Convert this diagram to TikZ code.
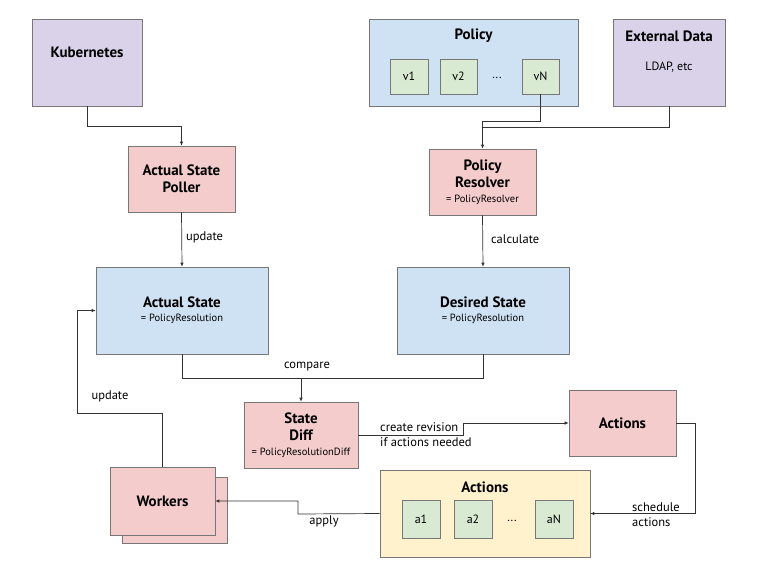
\documentclass[tikz,border=0pt]{standalone}
\usepackage{fontspec}
\setmainfont{PT Sans}
\usetikzlibrary{arrows.meta}
\definecolor{cpurple}{HTML}{D9D2E9}
\definecolor{cpink}{HTML}{F4CCCC}
\definecolor{cblue}{HTML}{CFE2F3}
\definecolor{cgreen}{HTML}{D9EAD3}
\definecolor{cyellow}{HTML}{FFF2CC}
\definecolor{cborder}{HTML}{777777}
\definecolor{cline}{HTML}{333333}
\newcommand{\subtxt}[1]{{\fontsize{10.5}{12}\selectfont\mdseries #1}}
\begin{document}
\begin{tikzpicture}[x=1pt,y=-1pt,
  box/.style={draw=cborder,line width=0.6pt,inner sep=0pt,align=center},
  ttl/.style={font=\fontsize{15}{17}\selectfont\bfseries},
  lbl/.style={font=\fontsize{12.5}{15}\selectfont,inner sep=0pt,align=left},
  small/.style={box,fill=cgreen,font=\fontsize{12}{14}\selectfont},
  conn/.style={draw=cline,line width=0.7pt},
  arr/.style={conn,-{Latex[length=4pt,width=3.5pt]}}]
\useasboundingbox[fill=white] (0,0) rectangle (760,570);

% top row
\node[box,fill=cpurple,minimum width=110pt,minimum height=87pt] (kube) at (87,62.5) {};
\node[ttl] (kubet) at (87,52) {Kubernetes};

\node[box,fill=cblue,minimum width=209pt,minimum height=87pt] (policy) at (473.5,62.5) {};
\node[ttl] (policyt) at (473.5,36) {Policy};
\node[small,minimum width=38pt,minimum height=35pt] (v1) at (409,76.5) {v1};
\node[small,minimum width=37pt,minimum height=35pt] (v2) at (458.5,76.5) {v2};
\node[font=\fontsize{12}{14}\selectfont] (vdots) at (497,78) {...};
\node[small,minimum width=37pt,minimum height=35pt] (vN) at (540.5,76.5) {vN};

\node[box,fill=cpurple,minimum width=112pt,minimum height=87pt] (ext) at (669,62.5) {};
\node[ttl] (extt) at (669,36) {External Data};
\node[font=\fontsize{12}{14}\selectfont] (extl) at (669,67) {LDAP, etc};

% second row
\node[box,fill=cpink,minimum width=107pt,minimum height=66pt,ttl] (poller) at (181.5,179) {Actual State\\Poller};
\node[box,fill=cpink,minimum width=107pt,minimum height=66pt,ttl] (resolver) at (482.5,182)
  {Policy\\Resolver\\[-2pt]\subtxt{= PolicyResolver}};

% third row
\node[box,fill=cblue,minimum width=172pt,minimum height=87pt,ttl] (actual) at (182,310.5)
  {Actual State\\[-3pt]\subtxt{= PolicyResolution}};
\node[box,fill=cblue,minimum width=172pt,minimum height=87pt,ttl] (desired) at (483,310.5)
  {Desired State\\[-3pt]\subtxt{= PolicyResolution}};

% diff and actions
\node[box,fill=cpink,minimum width=114pt,minimum height=66pt,ttl] (diff) at (301,435)
  {State\\Diff\\[-2pt]\subtxt{= PolicyResolutionDiff}};
\node[box,fill=cpink,minimum width=107pt,minimum height=66pt,ttl] (actpink) at (622.5,423) {Actions};

\node[box,fill=cyellow,minimum width=210pt,minimum height=87pt] (yellow) at (485,513.5) {};
\node[ttl] (yellowt) at (485,487) {Actions};
\node[small,minimum width=38pt,minimum height=38pt] (a1) at (421,519) {a1};
\node[small,minimum width=38pt,minimum height=38pt] (a2) at (473,519) {a2};
\node[font=\fontsize{12}{14}\selectfont] (adots) at (512,521) {...};
\node[small,minimum width=38pt,minimum height=38pt] (aN) at (554,519) {aN};

% workers
\node[box,fill=cpink,minimum width=105pt,minimum height=66pt] (wback) at (174.5,510) {};
\node[box,fill=cpink,minimum width=105pt,minimum height=68pt,ttl] (wfront) at (162.5,501) {Workers};

% connectors
\draw[arr] (kube.south) -- ++(0,20) -| (poller.north);
\draw[arr] (poller.south) -- (actual.north) node[lbl,pos=0.47,right=4pt] {update};

\coordinate (jv) at (482.5,121);
\coordinate (jext) at (482.5,127);
\draw[arr] (vN.south) |- (jv) -- (resolver.north);
\draw[conn] (ext.south) |- (jext);
\draw[arr] (resolver.south) -- (desired.north) node[lbl,pos=0.47,right=8pt] {calculate};

\coordinate (jc) at (301,378);
\draw[conn] (actual.south) |- (desired.south |- jc) -- (desired.south);
\draw[arr] (jc) -- (diff.north);
\node[lbl] (cmp) at (307,367) {compare};

\coordinate (jr) at (463,435);
\draw[arr] (diff.east) -- (jr) |- (actpink.west);
\node[lbl,anchor=west] (crt) at (380,434.5) {create revision\\if actions needed};

\coordinate (js) at (695,423);
\draw[arr] (actpink.east) -- (js) |- (yellow.east);
\node[lbl,anchor=west] (sch) at (632,515) {schedule\\actions};

\coordinate (ja) at (298,514);
\draw[arr] (yellow.west) -- (ja) |- (wfront.east);
\node[lbl] (apl) at (324,521) {apply};

\coordinate (ju) at (77,413);
\draw[arr] (wfront.north) |- (ju) |- (actual.west);
\node[lbl] (upd2) at (110,396) {update};
\end{tikzpicture}
\end{document}
